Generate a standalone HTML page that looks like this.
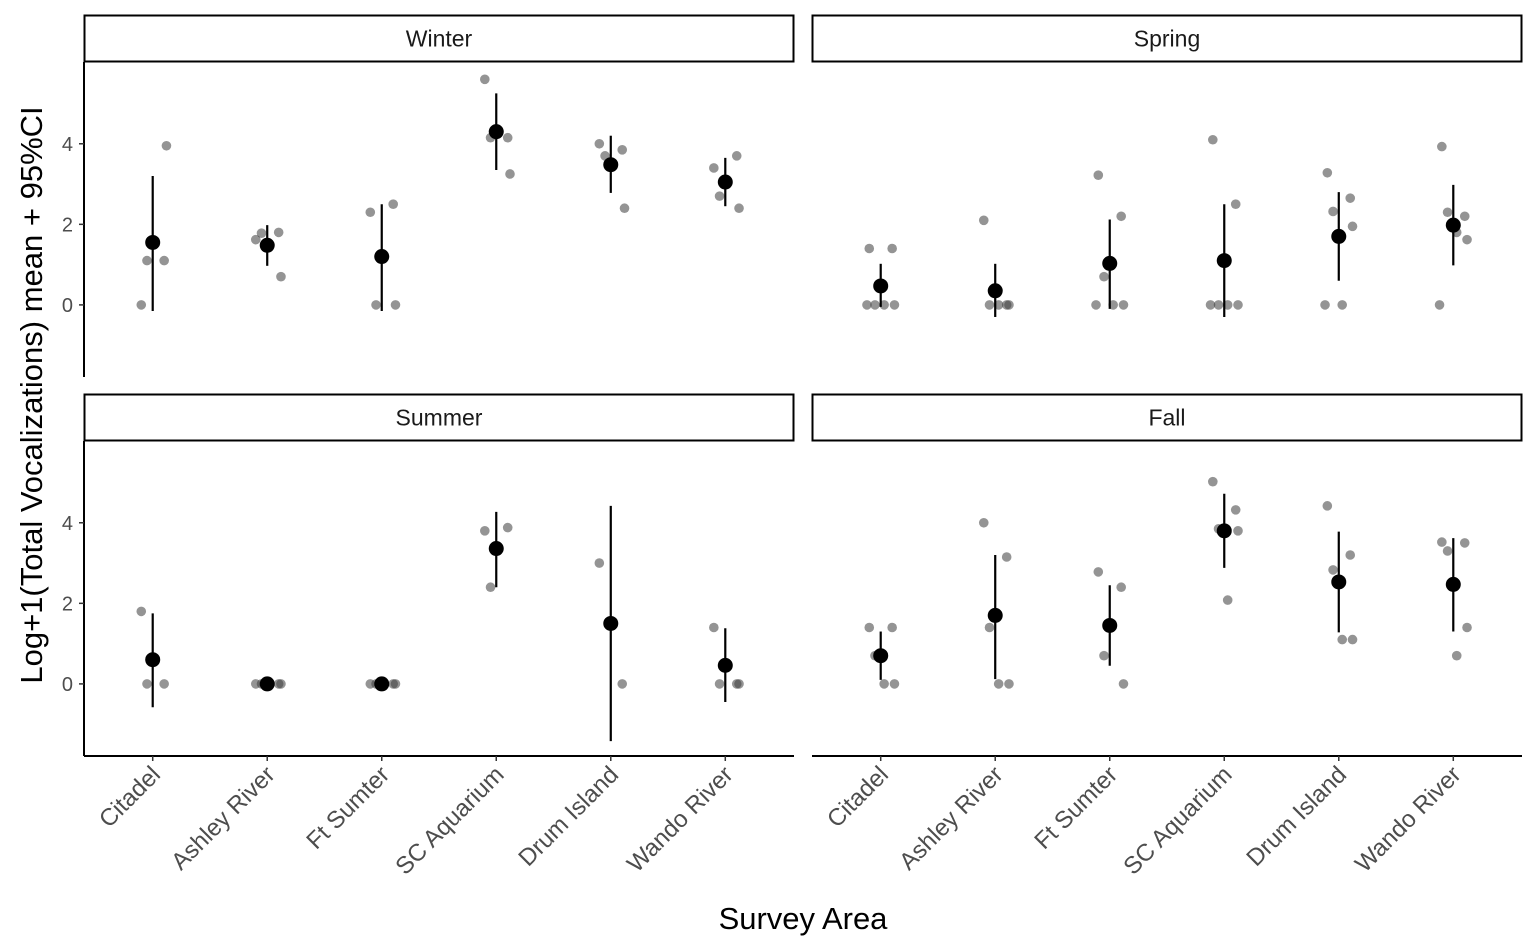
<!DOCTYPE html>
<html><head><meta charset="utf-8"><style>
html,body{margin:0;padding:0;background:#fff;}
svg{display:block;font-family:"Liberation Sans",Arial,sans-serif;}
</style></head><body>
<svg id="chart" width="1540" height="951" viewBox="0 0 1540 951" xmlns="http://www.w3.org/2000/svg">
<text x="803" y="929" font-size="31" text-anchor="middle">Survey Area</text>
<text transform="translate(42,395) rotate(-90)" font-size="31" text-anchor="middle">Log+1(Total Vocalizations) mean + 95%CI</text>
</svg>
<script>
const categories = ["Citadel","Ashley River","Ft Sumter","SC Aquarium","Drum Island","Wando River"];
const seasons = ["Winter","Spring","Summer","Fall"];
const yTicks = [0,2,4];
const means = {
 Winter:[1.55,1.48,1.2,4.3,3.48,3.05],
 Spring:[0.47,0.35,1.03,1.1,1.7,1.98],
 Summer:[0.6,0,0,3.36,1.5,0.46],
 Fall:[0.7,1.7,1.45,3.8,2.53,2.47]
};
const ciLow = {
 Winter:[-0.15,0.97,-0.15,3.35,2.78,2.45],
 Spring:[-0.05,-0.3,-0.1,-0.3,0.6,0.98],
 Summer:[-0.58,0,0,2.4,-1.42,-0.45],
 Fall:[0.1,0.12,0.45,2.88,1.28,1.3]
};
const ciHigh = {
 Winter:[3.2,1.98,2.5,5.25,4.2,3.65],
 Spring:[1.02,1.02,2.12,2.5,2.8,2.98],
 Summer:[1.75,0,0,4.27,4.42,1.38],
 Fall:[1.3,3.2,2.45,4.72,3.78,3.62]
};
const rawPoints = {
 Winter:[[0,1.1,1.1,3.95],[1.62,1.8,1.78,0.7],[2.3,2.5,0,0],[5.6,4.15,4.15,3.25],[4.0,3.85,3.7,2.4],[3.4,3.7,2.7,2.4]],
 Spring:[[1.4,1.4,0,0,0,0],[2.1,0,0,0,0],[3.22,2.2,0.7,0,0,0],[4.1,2.5,0,0,0,0],[3.28,2.65,2.32,1.95,0,0],[3.93,2.2,2.3,1.62,1.8,0]],
 Summer:[[1.8,0,0],[0,0,0,0],[0,0,0,0],[3.8,3.88,2.4],[3.0,0],[1.4,0,0,0]],
 Fall:[[1.4,1.4,0.7,0,0],[4.0,3.15,1.4,0,0],[2.78,2.4,0.7,0],[5.02,4.32,3.85,3.8,2.08],[4.42,3.2,2.83,1.1,1.1],[3.52,3.5,3.3,1.4,0.7]]
};
const jitter = [-0.1,0.1,-0.05,0.12,0.03,-0.12];

const svg = document.getElementById('chart');
const NS = 'http://www.w3.org/2000/svg';
function mk(tag, attrs, parent){const e=document.createElementNS(NS,tag);for(const k in attrs)e.setAttribute(k,attrs[k]);(parent||svg).appendChild(e);return e;}

const panels = [
 {x0:84,x1:794,top:62,bot:377,strip:15,col:0,row:0},
 {x0:812,x1:1522,top:62,bot:377,strip:15,col:1,row:0},
 {x0:84,x1:794,top:441,bot:756,strip:394,col:0,row:1},
 {x0:812,x1:1522,top:441,bot:756,strip:394,col:1,row:1}
];
const yMin=-1.79, yMax=6.03;
seasons.forEach((s,pi)=>{
 const p=panels[pi];
 const xs=c=>p.x0+(c+0.6)*(p.x1-p.x0)/6.2;
 const ys=v=>p.bot-(v-yMin)/(yMax-yMin)*(p.bot-p.top);
 const g=mk('g',{});
 
 
 const st=mk('rect',{x:p.x0+0.5,y:p.strip+0.5,width:p.x1-p.x0-1,height:p.top-p.strip-1,fill:'#fff',stroke:'#000','stroke-width':2},g);
 
 
 const stt=mk('text',{x:(p.x0+p.x1)/2,y:(p.strip+p.top)/2+8,'font-size':23,'text-anchor':'middle',fill:'#1a1a1a'},g);
 stt.textContent=s;
 
 
 if(p.col===0){
  const ya=mk('line',{x1:p.x0,x2:p.x0,y1:p.top,y2:p.bot,stroke:'#000','stroke-width':2},g);
  
  
  yTicks.forEach(t=>{
   mk('line',{x1:p.x0-5,x2:p.x0,y1:ys(t),y2:ys(t),stroke:'#333','stroke-width':1.5},g);
   const tt=mk('text',{x:p.x0-11,y:ys(t)+7,'font-size':20,'text-anchor':'end',fill:'#4d4d4d'},g);
   tt.textContent=t;
   
   
  });
 }
 if(p.row===1){
  const xa=mk('line',{x1:p.x0,x2:p.x1,y1:p.bot,y2:p.bot,stroke:'#000','stroke-width':2},g);
  
  
  categories.forEach((c,ci)=>{
   const x=xs(ci);
   mk('line',{x1:x,x2:x,y1:p.bot,y2:p.bot+5,stroke:'#333','stroke-width':1.5},g);
   const tt=mk('text',{transform:`translate(${x+9},${p.bot+20}) rotate(-45)`,'font-size':24,'text-anchor':'end',fill:'#4d4d4d'},g);
   tt.textContent=c;
   
   
  });
 }
 categories.forEach((c,ci)=>{
  rawPoints[s][ci].forEach((v,k)=>{
   const pt=mk('circle',{cx:xs(ci+jitter[k%jitter.length]),cy:ys(v),r:4.8,fill:'rgba(60,60,60,0.55)'},g);
   
   
  });
  const er=mk('line',{x1:xs(ci),x2:xs(ci),y1:ys(ciLow[s][ci]),y2:ys(ciHigh[s][ci]),stroke:'#000','stroke-width':2.2},g);
  
  
  const m=mk('circle',{cx:xs(ci),cy:ys(means[s][ci]),r:7.5,fill:'#000'},g);
  
  
 });
});
</script>
</body></html>
